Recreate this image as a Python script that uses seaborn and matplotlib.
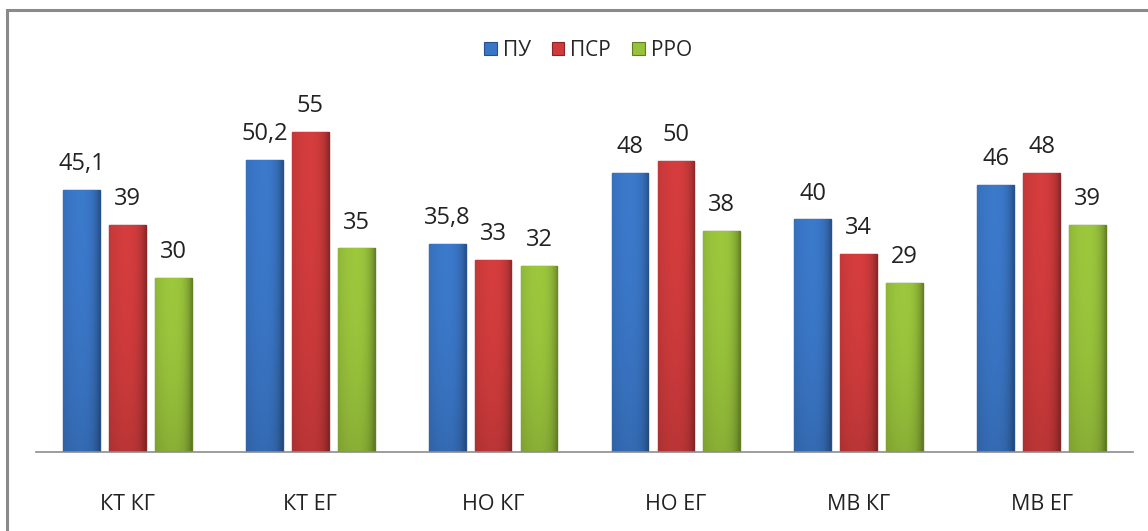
import numpy as np
import pandas as pd
import matplotlib
matplotlib.use("Agg")
import matplotlib.pyplot as plt
from matplotlib.patches import Rectangle
from matplotlib.colors import to_rgb
import seaborn as sns

# data
categories = ["КТ КГ", "КТ ЕГ", "НО КГ", "НО ЕГ", "МВ КГ", "МВ ЕГ"]
series_names = ["ПУ", "ПСР", "РРО"]
pu = [45.1, 50.2, 35.8, 48, 40, 46]
psr = [39, 55, 33, 50, 34, 48]
rro = [30, 35, 32, 38, 29, 39]

colors = ["#3a76c6", "#cf3b3c", "#98c23b"]
edges = ["#25518f", "#8a2426", "#60801f"]

# long table for seaborn
df = pd.DataFrame({
    "cat": categories * 3,
    "series": [s for s in series_names for _ in categories],
    "value": pu + psr + rro,
})

sns.set_style("white")
plt.rcParams["font.family"] = ["Open Sans", "DejaVu Sans"]

fig = plt.figure(figsize=(11.48, 5.31), dpi=100)
ax = fig.add_axes([36 / 1148, 79 / 531, 1097 / 1148, 0.657])

sns.barplot(data=df, x="cat", y="value", hue="series", order=categories,
            hue_order=series_names, palette=colors, saturation=1, width=0.754, gap=0.2,
            linewidth=1.0, legend=False, ax=ax)

ax.set_ylim(0, 60)
ax.set_xlim(-0.5, len(categories) - 0.5)


def shade(c):
    # excel-ish look: light left/middle, darker right edge, a bit darker at the bottom
    base = np.array(to_rgb(c))
    t = np.linspace(0, 1, 64)
    fx = 1.04 - 0.10 * (1 - t) ** 4 - 0.35 * t ** 6
    v = np.linspace(0, 1, 32)[:, None]
    fy = 1.0 - 0.12 * v ** 2
    f = fy * fx[None, :]
    return np.clip(base[None, None, :] * f[:, :, None], 0, 1)


for i, cont in enumerate(ax.containers):
    grad = shade(colors[i])
    for bar in cont:
        bar.set_edgecolor(edges[i])
        x0, y0 = bar.get_x(), bar.get_y()
        w, h = bar.get_width(), bar.get_height()
        img = ax.imshow(grad, extent=[x0, x0 + w, y0, y0 + h], aspect="auto",
                        zorder=bar.get_zorder(), interpolation="bilinear")
        img.set_clip_path(bar)
    labels = [f"{v:g}".replace(".", ",") for v in cont.datavalues]
    ax.bar_label(cont, labels=labels, padding=10, fontsize=17, color="#222222")

ax.set_ylim(0, 60)
ax.set_xlim(-0.5, len(categories) - 0.5)
ax.set_xlabel("")
ax.set_ylabel("")
ax.set_yticks([])
ax.tick_params(axis="x", length=0, labelsize=15.5, pad=30, colors="#222222")
for side in ["top", "left", "right"]:
    ax.spines[side].set_visible(False)
ax.spines["bottom"].set_color("#8c8c8c")
ax.spines["bottom"].set_linewidth(1.2)

# legend at the top
handles = [Rectangle((0, 0), 1, 1, facecolor=c, edgecolor=e, linewidth=0.8)
           for c, e in zip(colors, edges)]
fig.legend(handles, series_names, loc="center", bbox_to_anchor=(588 / 1148, 1 - 50 / 531),
           ncol=3, frameon=False, fontsize=15, handlelength=0.6, handleheight=0.6,
           handletextpad=0.3, columnspacing=1.0)

# chart frame (only left and top visible in the crop)
frame = Rectangle((7 / 1148, -0.2), 1.2, 1.2 - 10 / 531, transform=fig.transFigure,
                  fill=False, edgecolor="#8a8a8a", linewidth=2.2)
fig.patches.append(frame)

fig.savefig("out.png", dpi=100)
